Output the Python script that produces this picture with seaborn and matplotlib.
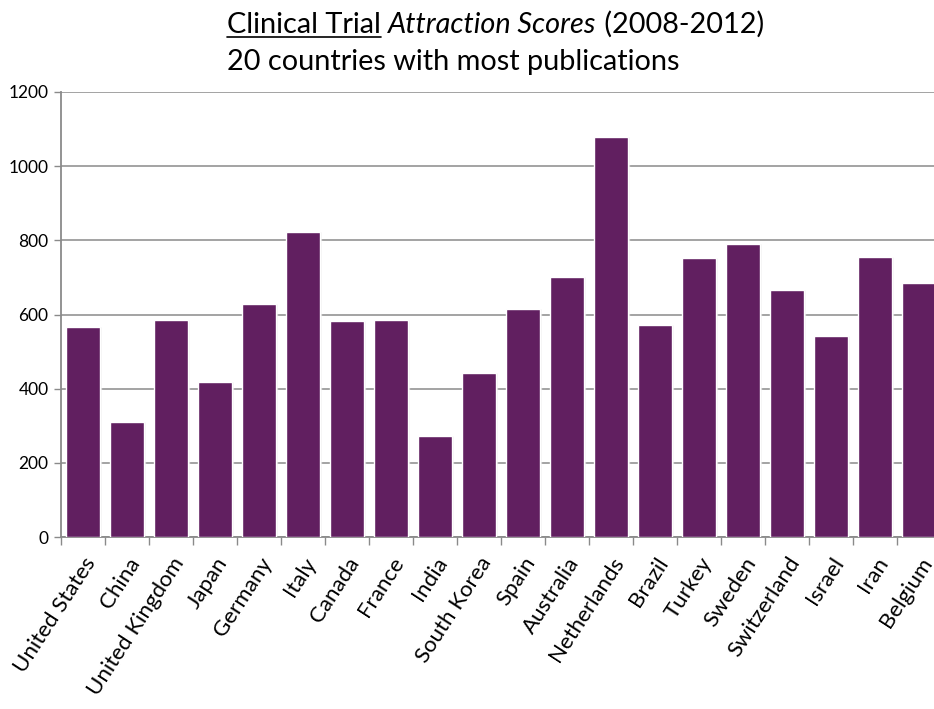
import numpy as np
import pandas as pd
import matplotlib
matplotlib.use("Agg")
import matplotlib.pyplot as plt
import seaborn as sns
from matplotlib.lines import Line2D

countries = [
    "United States", "China", "United Kingdom", "Japan", "Germany", "Italy",
    "Canada", "France", "India", "South Korea", "Spain", "Australia",
    "Netherlands", "Brazil", "Turkey", "Sweden", "Switzerland", "Israel",
    "Iran", "Belgium",
]
scores = [565, 309, 586, 417, 628, 822, 583, 586, 273, 441,
          615, 700, 1080, 571, 752, 790, 667, 543, 756, 686]
y_ticks = [0, 200, 400, 600, 800, 1000, 1200]

BAR_COLOR = "#611f60"
GRID_COLOR = "#8a8a8a"

sns.set_theme(style="white")
plt.rcParams["font.family"] = ["Lato", "DejaVu Sans"]

df = pd.DataFrame({"country": countries, "score": scores})

W, H = 934, 709
fig = plt.figure(figsize=(W / 100, H / 100), dpi=100)
# axes box in pixels: left 61, right 941 (runs past the edge), top 92, bottom 537
ax = fig.add_axes([61 / W, 1 - 537 / H, (941 - 61) / W, (537 - 92) / H])

# bar shadow (slight offset) then bars
sns.barplot(data=df, x="country", y="score", color="#b0b0b0", width=0.77,
            saturation=1, ax=ax, zorder=2)
for p in ax.patches:
    p.set_x(p.get_x() + 0.03)
    p.set_alpha(0.5)
sns.barplot(data=df, x="country", y="score", color=BAR_COLOR, width=0.77,
            saturation=1, ax=ax, zorder=3)

ax.set_xlim(-0.5, len(countries) - 0.5)
ax.set_ylim(0, 1200)
ax.set_yticks(y_ticks)
ax.set_yticklabels([str(v) for v in y_ticks], fontsize=12.5, color="black")
ax.yaxis.grid(True, color=GRID_COLOR, linewidth=1.1, zorder=0)
ax.set_axisbelow(True)
ax.set_xlabel("")
ax.set_ylabel("")

ax.set_xticks(np.arange(len(countries)))
ax.set_xticklabels(countries, rotation=57, ha="right", rotation_mode="anchor",
                   fontsize=16, color="black")
ax.tick_params(axis="x", which="major", length=0, pad=12)
ax.set_xticks(np.arange(-0.5, len(countries)), minor=True)
ax.tick_params(axis="x", which="minor", length=6, width=1, color=GRID_COLOR,
               direction="out", bottom=True)
ax.tick_params(axis="y", length=5, width=1, color=GRID_COLOR, direction="out",
               left=True, pad=4)

for side in ["top", "right"]:
    ax.spines[side].set_visible(False)
for side in ["left", "bottom"]:
    ax.spines[side].set_color(GRID_COLOR)
    ax.spines[side].set_linewidth(1.3)

# title: underlined + italic pieces laid out left to right
fig.canvas.draw()
renderer = fig.canvas.get_renderer()
x0, base1 = 227, 33
parts = [("Clinical Trial", "normal", True), (" ", "normal", False),
         ("Attraction Scores", "italic", False), (" (2008-2012)", "normal", False)]
x = x0
for txt, style, underline in parts:
    t = fig.text(x / W, 1 - base1 / H, txt, fontsize=20.8, style=style,
                 va="baseline", ha="left", color="black")
    bb = t.get_window_extent(renderer)
    if underline:
        fig.add_artist(Line2D([bb.x0 / W, bb.x1 / W],
                              [1 - (base1 + 4) / H, 1 - (base1 + 4) / H],
                              transform=fig.transFigure, color="black",
                              linewidth=1.2))
    x = bb.x1
fig.text(x0 / W, 1 - 70 / H, "20 countries with most publications",
         fontsize=20.8, va="baseline", ha="left", color="black")

fig.savefig("out.png", dpi=100)
